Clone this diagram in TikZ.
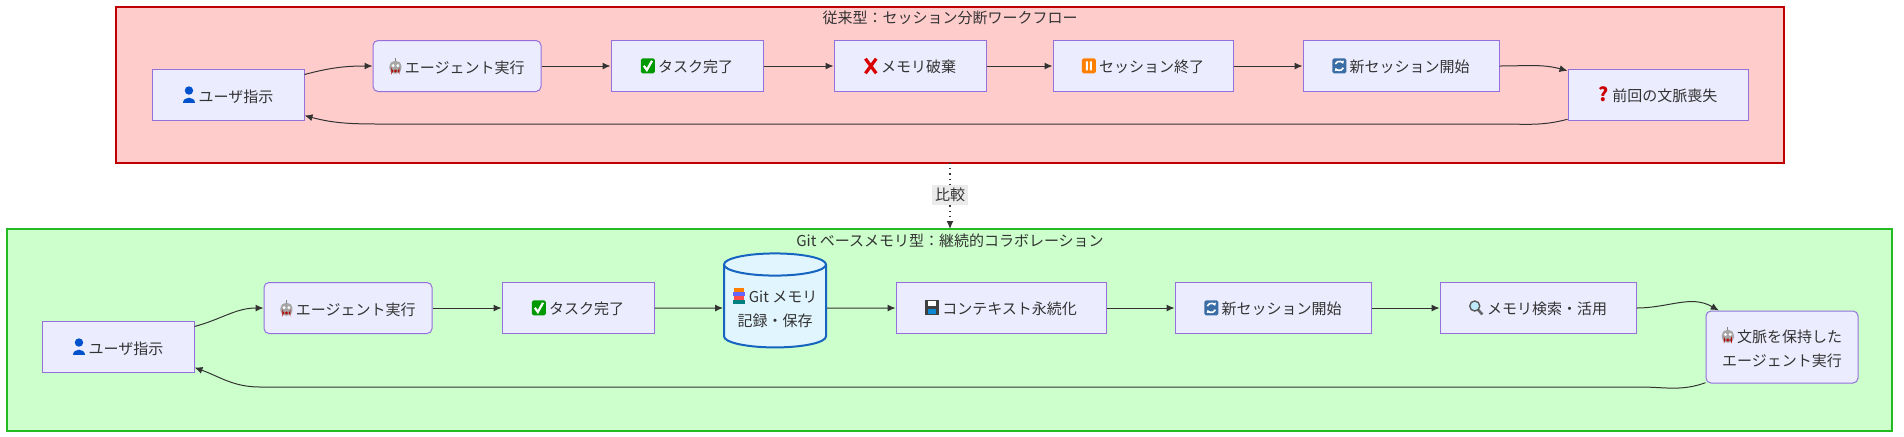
\documentclass[tikz,border=0pt]{standalone}
\usepackage{fontspec}
\setmainfont{Noto Sans CJK JP}
\usetikzlibrary{shapes.geometric,arrows.meta}
\definecolor{nfill}{HTML}{ECECFF}
\definecolor{nline}{HTML}{9370DB}
\definecolor{rfill}{HTML}{FFCCCC}
\definecolor{rline}{HTML}{C00000}
\definecolor{gfill}{HTML}{CCFFCC}
\definecolor{gline}{HTML}{22BB22}
\definecolor{edge}{HTML}{333333}
\definecolor{cylfill}{HTML}{E1F5FE}
\definecolor{cylline}{HTML}{1565C0}
\newcommand{\icUser}{\tikz[baseline=0pt,x=1pt,y=1pt]{\fill[blue!60!cyan!80!black] (3.5,6) circle (2.1);\fill[blue!60!cyan!80!black] (0.3,0) .. controls (0.3,3.5) and (6.7,3.5) .. (6.7,0) -- cycle;}}
\newcommand{\icBot}{\tikz[baseline=0pt,x=1pt,y=1pt]{\draw[gray] (3.5,6.2)--(3.5,8);\fill[gray!70] (0.5,0) rectangle (6.5,6.3);\fill[red!70!black] (1.5,0.6) rectangle (5.5,2);\fill[white] (2.3,4) circle (0.8) (4.7,4) circle (0.8);}}
\newcommand{\icCheck}{\tikz[baseline=0pt,x=1pt,y=1pt]{\fill[green!60!black,rounded corners=0.8pt] (0,-0.5) rectangle (7,7);\draw[white,line width=1.1pt] (1.5,3.3)--(3,1.2)--(5.6,5.8);}}
\newcommand{\icCross}{\tikz[baseline=0pt,x=1pt,y=1pt]{\draw[red!85!black,line width=1.6pt] (0.8,-0.3)--(6.2,7) (6.2,-0.3)--(0.8,7);}}
\newcommand{\icPause}{\tikz[baseline=0pt,x=1pt,y=1pt]{\fill[orange,rounded corners=0.8pt] (0,-0.5) rectangle (7,7);\fill[white] (2,1) rectangle (3,5.5) (4,1) rectangle (5,5.5);}}
\newcommand{\icRefresh}{\tikz[baseline=0pt,x=1pt,y=1pt]{\fill[cyan!55!blue!75!black,rounded corners=0.8pt] (0,-0.5) rectangle (7,7);\draw[white,line width=0.8pt,-{Latex[length=1.5pt,width=2pt]}] (1.5,4.2) arc (160:20:2.1);\draw[white,line width=0.8pt,-{Latex[length=1.5pt,width=2pt]}] (5.5,2.3) arc (-20:-160:2.1);}}
\newcommand{\icQ}{\textcolor{red!80!black}{\fontsize{9.5}{10}\selectfont\textbf{?}}}
\newcommand{\icBooks}{\tikz[baseline=0pt,x=1pt,y=1pt]{\fill[teal] (0.3,-0.5) rectangle (6.7,1.6);\fill[red!70] (0.8,1.6) rectangle (6.2,3.6);\fill[blue!60] (0.3,3.6) rectangle (6.5,5.6);\fill[orange] (1,5.6) rectangle (6,7.3);}}
\newcommand{\icDisk}{\tikz[baseline=0pt,x=1pt,y=1pt]{\fill[black!75] (0,-0.5) rectangle (7,7);\fill[white] (1.5,4) rectangle (5.5,6.5);\fill[cyan!70!blue] (1.5,0) rectangle (5.5,2.5);}}
\newcommand{\icLens}{\tikz[baseline=0pt,x=1pt,y=1pt]{\draw[gray!80!black,line width=1.3pt] (4.5,2.5)--(6.8,0);\fill[cyan!25,draw=gray!70!black,line width=0.7pt] (3,4.2) circle (2.5);}}
\begin{document}
\begin{tikzpicture}[x=0.5pt,y=-0.5pt,
  box/.style={draw=nline,fill=nfill,line width=0.5pt,minimum height=25.5pt,font=\fontsize{7.5}{10}\selectfont,text=black!80,inner sep=2pt,align=center},
  rbox/.style={box,rounded corners=2.5pt},
  clus/.style={line width=1pt},
  ttl/.style={font=\fontsize{7.5}{9}\selectfont,text=black!80},
  arr/.style={draw=edge,line width=0.5pt,-{Latex[length=4pt,width=3.5pt]}}]
\useasboundingbox (0,0) rectangle (1904,436);
% clusters
\draw[clus,draw=rline,fill=rfill] (116,7) rectangle (1784,163);
\node[ttl] (t1) at (950,18) {従来型：セッション分断ワークフロー};
\draw[clus,draw=gline,fill=gfill] (7,229) rectangle (1892,431);
\node[ttl] (t2) at (950,241) {Git ベースメモリ型：継続的コラボレーション};
% top row
\node[box,minimum width=76pt] (u1) at (228,95) {\icUser\ ユーザ指示};
\node[rbox,minimum width=84pt] (a1) at (457,66) {\icBot\ エージェント実行};
\node[box,minimum width=76pt] (k1) at (687,66) {\icCheck\ タスク完了};
\node[box,minimum width=76pt] (m1) at (910,66) {\icCross\ メモリ破棄};
\node[box,minimum width=90pt] (s1) at (1143,66) {\icPause\ セッション終了};
\node[box,minimum width=98pt] (n1) at (1401,66) {\icRefresh\ 新セッション開始};
\node[box,minimum width=90pt] (l1) at (1658,95) {\icQ\ 前回の文脈喪失};
\draw[arr] (u1.15) to[out=15,in=180] (a1.west);
\draw[arr] (a1) -- (k1);
\draw[arr] (k1) -- (m1);
\draw[arr] (m1) -- (s1);
\draw[arr] (s1) -- (n1);
\draw[arr] (n1.east) to[out=0,in=165] (l1.165);
\draw[arr] (l1.195) to[out=195,in=0] (1500,124) -- (380,124) to[out=180,in=-15] (u1.-15);
% comparison
\draw[edge,dotted,line width=0.6pt] (950,163) -- (950,186);
\node[fill=black!8,inner sep=1.5pt,font=\fontsize{7.5}{9}\selectfont,text=black!80] (cmp) at (950,195) {比較};
\draw[edge,dotted,line width=0.6pt,-{Latex[length=4pt,width=3.5pt]}] (cmp.south) -- (950,229);
% bottom row
\node[box,minimum width=76pt] (u2) at (118,347) {\icUser\ ユーザ指示};
\node[rbox,minimum width=84pt] (a2) at (348,308) {\icBot\ エージェント実行};
\node[box,minimum width=76pt] (k2) at (578,308) {\icCheck\ タスク完了};
\node[cylinder,shape border rotate=90,aspect=0.25,draw=cylline,fill=cylfill,line width=1pt,minimum width=51pt,minimum height=47pt,align=center,font=\fontsize{7.5}{12}\selectfont,text=black!80,inner sep=1pt] (g2) at (775,308) {\icBooks\ Git メモリ\\記録・保存};
\node[box,minimum width=105pt] (c2) at (1001,308) {\icDisk\ コンテキスト永続化};
\node[box,minimum width=98pt] (n2) at (1273,308) {\icRefresh\ 新セッション開始};
\node[box,minimum width=98pt] (s2) at (1538,308) {\icLens\ メモリ検索・活用};
\node[rbox,minimum width=76pt,minimum height=36pt,font=\fontsize{7.5}{12}\selectfont] (f2) at (1782,347) {\icBot\ 文脈を保持した\\エージェント実行};
\draw[arr] (u2.15) to[out=15,in=180] (a2.west);
\draw[arr] (a2) -- (k2);
\draw[arr] (k2) -- (g2);
\draw[arr] (g2) -- (c2);
\draw[arr] (c2) -- (n2);
\draw[arr] (n2) -- (s2);
\draw[arr] (s2.east) to[out=0,in=150] (f2.150);
\draw[arr] (f2.205) to[out=200,in=0] (1640,387) -- (260,387) to[out=180,in=-20] (u2.-15);
\end{tikzpicture}
\end{document}
